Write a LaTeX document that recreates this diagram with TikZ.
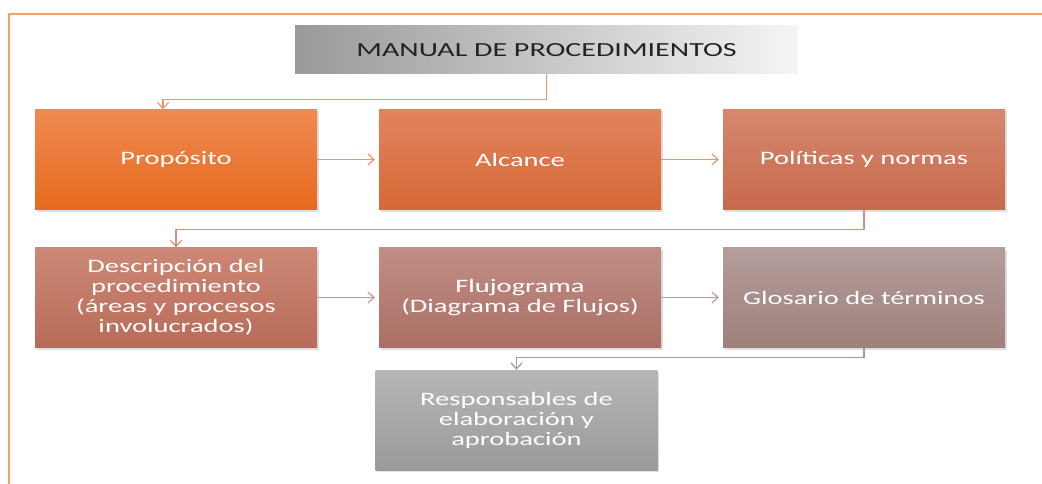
\documentclass[tikz,border=0pt]{standalone}
\usepackage{fontspec}
\setmainfont{Carlito}[FakeStretch=1.5]
\usetikzlibrary{shadows,arrows.meta}
\definecolor{frameline}{RGB}{245,160,105}
\definecolor{titletext}{RGB}{35,35,35}
\definecolor{boxa}{RGB}{238,138,82}   \definecolor{boxA}{RGB}{231,106,30}
\definecolor{boxb}{RGB}{226,132,96}   \definecolor{boxB}{RGB}{214,104,52}
\definecolor{boxc}{RGB}{214,136,110}  \definecolor{boxC}{RGB}{199,105,76}
\definecolor{boxd}{RGB}{204,136,118}  \definecolor{boxD}{RGB}{184,107,88}
\definecolor{boxe}{RGB}{192,142,135}  \definecolor{boxE}{RGB}{170,111,100}
\definecolor{boxf}{RGB}{180,157,155}  \definecolor{boxF}{RGB}{158,128,124}
\definecolor{boxg}{RGB}{182,182,182}  \definecolor{boxG}{RGB}{154,154,154}
\definecolor{linka}{RGB}{240,150,100}
\definecolor{linkb}{RGB}{226,150,120}
\definecolor{linkc}{RGB}{212,145,125}
\definecolor{linkd}{RGB}{200,150,142}
\definecolor{linke}{RGB}{185,155,152}
\definecolor{linkf}{RGB}{170,150,150}
\tikzset{
  box/.style={rectangle, minimum width=282pt, minimum height=100pt, inner sep=4pt,
    text=white, align=center, font=\fontsize{19}{20}\selectfont,
    drop shadow={shadow xshift=1.5pt, shadow yshift=-2pt, opacity=0.25}},
  titlebox/.style={rectangle, minimum width=503pt, minimum height=48pt,
    left color=black!40, right color=black!4, text=titletext,
    font=\fontsize{20}{22}\selectfont},
  link/.style={line width=1.2pt, draw=#1, >={Straight Barb[length=6pt,width=11pt]}},
}
\begin{document}
\begin{tikzpicture}[x=1pt, y=-1pt]
\useasboundingbox (0,0) rectangle (1042,484);
\draw[frameline, line width=2pt] (9,484) -- (9,14) -- (1042,14);
\node (title) at (546.5, 50) [titlebox] {MANUAL DE PROCEDIMIENTOS};
\node (n1) at (176, 159.5) [box, top color=boxa, bottom color=boxA] {Propósito};
\node (n2) at (520, 159.5) [box, top color=boxb, bottom color=boxB] {Alcance};
\node (n3) at (864, 159.5) [box, top color=boxc, bottom color=boxC] {Políticas y normas};
\node (n4) at (176, 297.5) [box, top color=boxd, bottom color=boxD] {Descripción del\\procedimiento\\(áreas y procesos\\involucrados)};
\node (n5) at (520, 297.5) [box, top color=boxe, bottom color=boxE] {Flujograma\\(Diagrama de Flujos)};
\node (n6) at (864, 297.5) [box, top color=boxf, bottom color=boxF] {Glosario de términos};
\node (n7) at (516.5, 420) [box, top color=boxg, bottom color=boxG] {Responsables de\\elaboración y\\aprobación};
\draw[->, link=linka] (title.south) -- ++(0,25) -| ([xshift=-13pt]n1.north);
\draw[->, link=linka, shorten >=4pt] (n1) -- (n2);
\draw[->, link=linkb, shorten >=4pt] (n2) -- (n3);
\draw[->, link=linkc] (n3.south) -- ++(0,20) -| (n4.north);
\draw[->, link=linkd, shorten >=4pt] (n4) -- (n5);
\draw[->, link=linke, shorten >=4pt] (n5) -- (n6);
\draw[->, link=linkf] (n6.south) -- ++(0,10) -| (n7.north);
\end{tikzpicture}
\end{document}
